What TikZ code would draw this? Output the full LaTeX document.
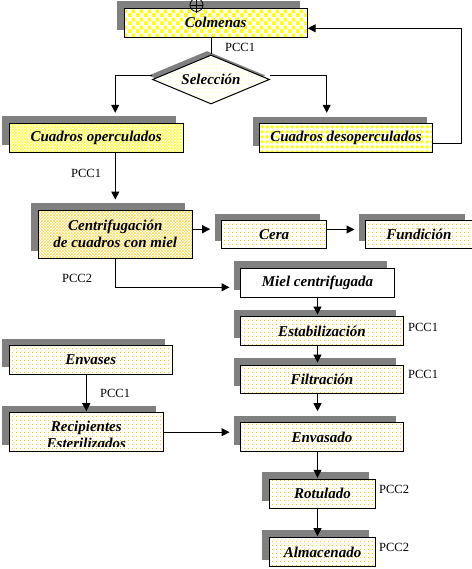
\documentclass[tikz,border=0pt]{standalone}
\usepackage{fontspec}
\setmainfont{Liberation Serif}
\usetikzlibrary{shapes.geometric,shadows,patterns.meta,arrows.meta}
\definecolor{shd}{RGB}{128,128,128}
\definecolor{dotc}{RGB}{255,204,0}
\definecolor{ylw}{RGB}{255,255,0}
\pgfdeclarepattern{name=mychk,type=uncolored,
  bottom left={\pgfpoint{0pt}{0pt}},top right={\pgfpoint{8pt}{8pt}},
  tile size={\pgfpoint{8pt}{8pt}},
  code={\pgfpathrectangle{\pgfpointorigin}{\pgfpoint{4pt}{4pt}}
        \pgfpathrectangle{\pgfpoint{4pt}{4pt}}{\pgfpoint{4pt}{4pt}}
        \pgfusepath{fill}}}
\pgfdeclarepattern{name=mydots,type=uncolored,
  bottom left={\pgfpoint{0pt}{0pt}},top right={\pgfpoint{4pt}{4pt}},
  tile size={\pgfpoint{4pt}{4pt}},
  code={\pgfpathrectangle{\pgfpointorigin}{\pgfpoint{1pt}{1pt}}
        \pgfpathrectangle{\pgfpoint{2pt}{2pt}}{\pgfpoint{1pt}{1pt}}
        \pgfusepath{fill}}}
\pgfdeclarepattern{name=mydiam,type=uncolored,
  bottom left={\pgfpoint{0pt}{0pt}},top right={\pgfpoint{5pt}{5pt}},
  tile size={\pgfpoint{5pt}{5pt}},
  code={\pgfpathmoveto{\pgfpoint{2.5pt}{0.3pt}}
        \pgfpathlineto{\pgfpoint{4.7pt}{2.5pt}}
        \pgfpathlineto{\pgfpoint{2.5pt}{4.7pt}}
        \pgfpathlineto{\pgfpoint{0.3pt}{2.5pt}}
        \pgfpathclose\pgfusepath{fill}}}
\pgfdeclarepattern{name=myxh,type=uncolored,
  bottom left={\pgfpoint{0pt}{0pt}},top right={\pgfpoint{3pt}{3pt}},
  tile size={\pgfpoint{3pt}{3pt}},
  code={\pgfsetlinewidth{0.5pt}
        \pgfpathmoveto{\pgfpoint{-1pt}{-1pt}}\pgfpathlineto{\pgfpoint{4pt}{4pt}}
        \pgfpathmoveto{\pgfpoint{-1pt}{4pt}}\pgfpathlineto{\pgfpoint{4pt}{-1pt}}
        \pgfusepath{stroke}}}
\pgfdeclarepattern{name=myhatch,type=uncolored,
  bottom left={\pgfpoint{0pt}{0pt}},top right={\pgfpoint{3pt}{3pt}},
  tile size={\pgfpoint{3pt}{3pt}},
  code={\pgfsetlinewidth{0.45pt}
        \pgfpathmoveto{\pgfpoint{-1pt}{-1pt}}\pgfpathlineto{\pgfpoint{4pt}{4pt}}
        \pgfpathmoveto{\pgfpoint{-1pt}{2pt}}\pgfpathlineto{\pgfpoint{1pt}{4pt}}
        \pgfpathmoveto{\pgfpoint{2pt}{-1pt}}\pgfpathlineto{\pgfpoint{4pt}{1pt}}
        \pgfusepath{stroke}}}
\tikzset{
  box/.style={draw=black,line width=1pt,rectangle,inner sep=0pt,
    font=\fontsize{15}{17}\selectfont\bfseries\itshape,align=center,
    drop shadow={shadow xshift=-#1,shadow yshift=#1,fill=shd,opacity=1},
    preaction={fill=white}},
  box/.default=7pt,
  chk/.style={pattern={mychk},pattern color=ylw},
  dts/.style={pattern={mydots},pattern color=dotc},
  diam/.style={pattern={mydiam},pattern color=ylw},
  xh/.style={pattern={myxh},pattern color=ylw},
  hatch/.style={pattern={myhatch},pattern color=dotc},
  arr/.style={line width=1pt,-{Triangle[width=8pt,length=8pt]}},
  ln/.style={line width=1pt},
  pcc/.style={font=\fontsize{12.5}{12.5}\selectfont,inner sep=0pt,anchor=west},
  lbl/.style={font=\fontsize{15}{17}\selectfont\bfseries\itshape,inner sep=0pt,anchor=base}
}
\begin{document}
\begin{tikzpicture}[x=1pt,y=-1pt]
\useasboundingbox (0,0) rectangle (471,569);
% boxes
\node[box,chk,minimum width=183pt,minimum height=29pt] (col) at (215.7,22.8) {Colmenas};
\node[box=4pt,diamond,aspect=2.4,minimum width=117pt,minimum height=49pt,
  pattern={mydots},pattern color=ylw!35] (sel) at (211,79.5) {Selección};
\node[box,xh,minimum width=173.7pt,minimum height=29pt] (cop) at (96.2,137.8) {Cuadros operculados};
\node[box=6pt,diam,minimum width=173.4pt,minimum height=29pt] (cdes) at (346,137.8) {Cuadros desoperculados};
\node[box,hatch,minimum width=154pt,minimum height=48.3pt] (cf) at (115.3,234.2) {Centrifugación\\de cuadros con miel};
\node[box,dts,minimum width=105pt,minimum height=27.6pt] (cera) at (274.2,234.5) {Cera};
\node[box,dts,minimum width=106.3pt,minimum height=27.6pt] (fund) at (418.85,234.5) {Fundición};
\node[box,minimum width=153.6pt,minimum height=29pt] (miel) at (317.5,282.8) {Miel centrifugada};
\node[box,dts,minimum width=162.6pt,minimum height=28.3pt] (estab) at (322,330.9) {Estabilización};
\node[box,dts,minimum width=162.6pt,minimum height=28.3pt] (filt) at (322,379.2) {Filtración};
\node[box,dts,minimum width=162.6pt,minimum height=29pt] (envd) at (322,437.2) {Envasado};
\node[box,dts,minimum width=163pt,minimum height=28.6pt] (env) at (90.8,360) {Envases};
\node[box,dts,minimum width=154pt,minimum height=39pt] (recip) at (86.3,432.2) {};
\begin{scope}
\clip (recip.north west) rectangle (recip.east |- 0,446.7);
\node[lbl] (recipt1) at (86.3,431.5) {Recipientes};
\node[lbl] (recipt2) at (86.3,448.5) {Esterilizados};
\end{scope}
\node[box,dts,minimum width=106.4pt,minimum height=29pt] (rot) at (322.5,493.8) {Rotulado};
\node[box,dts,minimum width=106.4pt,minimum height=29.4pt] (alm) at (322.5,552) {Almacenado};
% symbol on top of Colmenas
\draw[line width=0.8pt] (196.5,5) circle (6.5);
\draw[line width=0.8pt] (190,5) -- (203,5) (196.5,-1.5) -- (196.5,13);
% connectors
\draw[ln] (sel.north |- col.south) -- (sel.north);
\draw[arr,shorten >=10pt] ([yshift=4pt]sel.west) -| ([xshift=19pt]cop.north);
\draw[arr,shorten >=10pt] ([yshift=4pt]sel.east) -| ([xshift=-19.3pt]cdes.north);
\coordinate (fb) at (461,28.3);
\draw[arr] ([yshift=-5.5pt]cdes.east) -| (fb) -- ([yshift=-5.5pt]col.east);
\draw[arr,shorten >=10pt] (cf.north |- cop.south) -- (cf.north);
\draw[arr,shorten >=11pt] ([yshift=5pt]cf.east) -- ([yshift=5pt]cf.east -| cera.west);
\draw[arr,shorten >=10.7pt] ([yshift=5pt]cera.east) -- ([yshift=5pt]cera.east -| fund.west);
\draw[arr,shorten >=10.7pt] (cf.south) |- ([yshift=-4.5pt]miel.west);
\draw[arr,shorten >=1.7pt] (miel.south) -- (miel.south |- estab.north);
\draw[arr,shorten >=2pt] (miel.south |- estab.south) -- (miel.south |- filt.north);
\draw[arr,shorten >=11pt] (miel.south |- filt.south) -- (miel.south |- envd.north);
\draw[arr,shorten >=1pt] (recip.north |- env.south) -- (recip.north);
\draw[arr,shorten >=10.7pt] (recip.east) -- (recip.east -| envd.west);
\draw[arr,shorten >=1pt] (miel.south |- envd.south) -- (miel.south |- rot.north);
\draw[arr,shorten >=0.6pt] (miel.south |- rot.south) -- (miel.south |- alm.north);
% labels
\node[pcc] (p1) at (225,47) {PCC1};
\node[pcc] (p2) at (71,173) {PCC1};
\node[pcc] (p3) at (62,278) {PCC2};
\node[pcc] (p4) at (408,327) {PCC1};
\node[pcc] (p5) at (408,374.3) {PCC1};
\node[pcc] (p6) at (100,393.3) {PCC1};
\node[pcc] (p7) at (379,489.3) {PCC2};
\node[pcc] (p8) at (379,547.3) {PCC2};
\end{tikzpicture}
\end{document}
